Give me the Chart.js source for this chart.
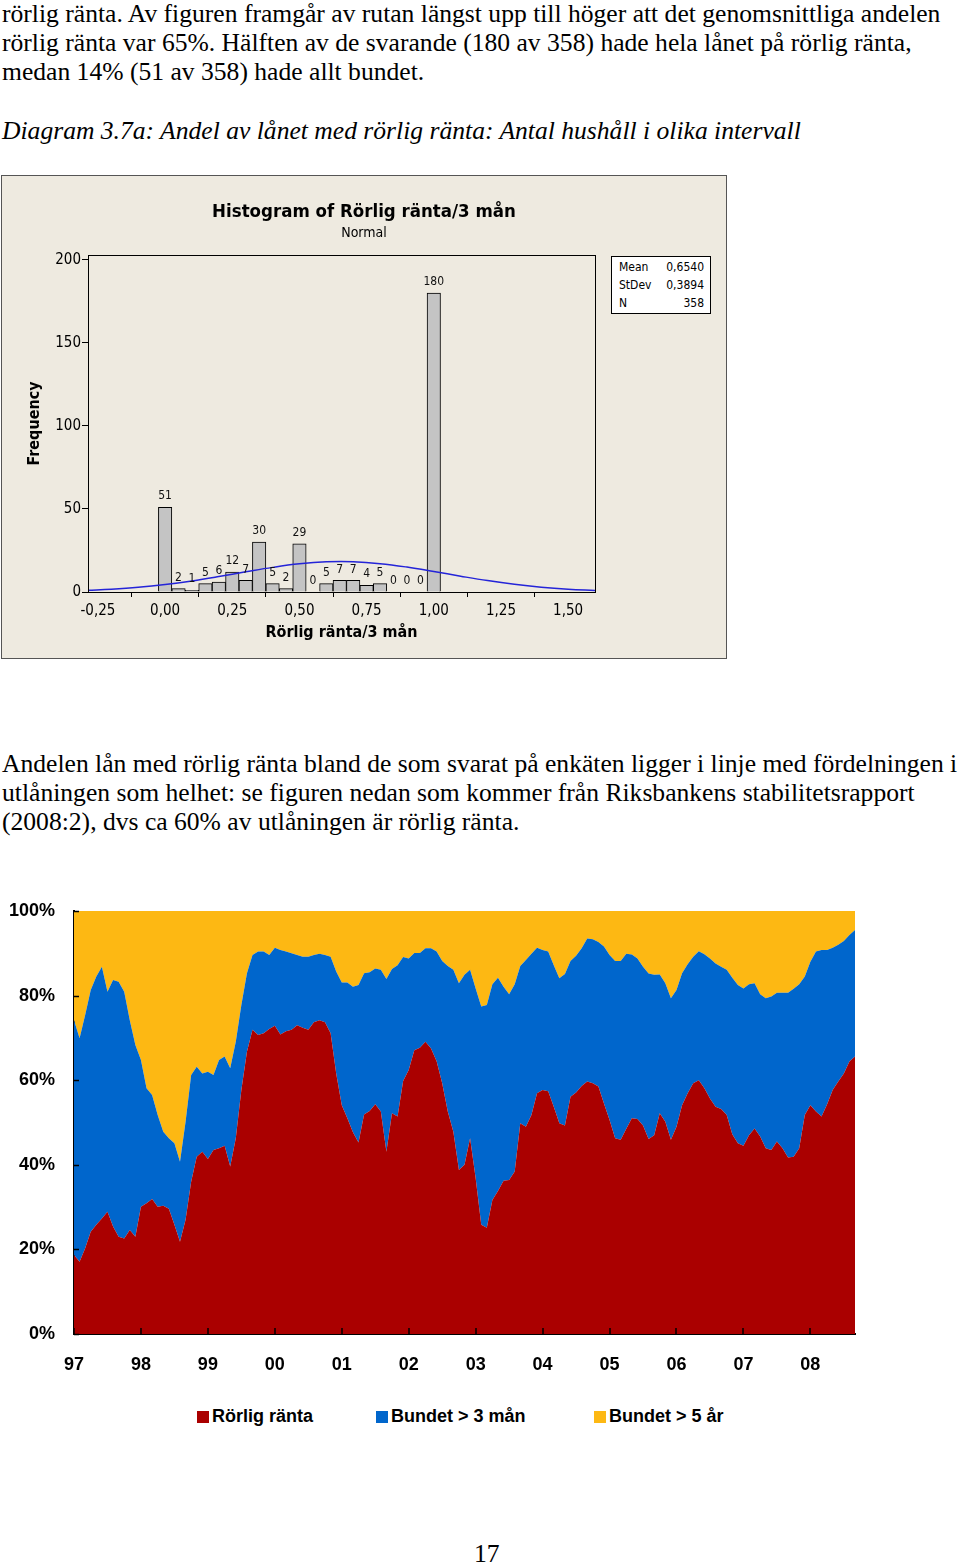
<!DOCTYPE html>
<html><head><meta charset="utf-8">
<script src="https://cdn.jsdelivr.net/npm/chart.js@4.4.1/dist/chart.umd.min.js"></script>
<style>
body{margin:0;background:#fff;width:960px;height:1566px;position:relative;overflow:hidden;font-family:"Liberation Serif","Times New Roman",serif;color:#000;}
.t{position:absolute;left:2px;font-size:25.6px;line-height:29px;white-space:nowrap;}
.i{font-style:italic;}
#hbox{position:absolute;left:1px;top:175px;width:726px;height:484px;box-sizing:border-box;border:1px solid #555;background:#EEEAE0;}
#hc{position:absolute;left:0;top:0;}
#stats{position:absolute;left:609px;top:80px;width:100px;height:58px;box-sizing:border-box;border:1px solid #000;background:#fff;font-family:"DejaVu Sans Condensed","Liberation Sans Narrow",sans-serif;font-size:12px;line-height:18px;padding:1px 6px 0 7px;}
#stats div{display:flex;justify-content:space-between;}
#ac{position:absolute;left:0;top:895px;}
.lg{position:absolute;top:1405px;font-family:"Liberation Sans",Arial,sans-serif;font-weight:bold;font-size:18px;line-height:22px;white-space:nowrap;}
.lg span{display:inline-block;width:12px;height:12px;margin-right:3px;vertical-align:-1px;}
</style></head>
<body>
<div class="t" style="top:-1px">rörlig ränta. Av figuren framgår av rutan längst upp till höger att det genomsnittliga andelen</div>
<div class="t" style="top:28px">rörlig ränta var 65%. Hälften av de svarande (180 av 358) hade hela lånet på rörlig ränta,</div>
<div class="t" style="top:57px">medan 14% (51 av 358) hade allt bundet.</div>
<div class="t i" style="top:116px">Diagram 3.7a: Andel av lånet med rörlig ränta: Antal hushåll i olika intervall</div>

<div id="hbox">
  <canvas id="hc" width="724" height="482"></canvas>
  <div id="stats">
    <div><span>Mean</span><span>0,6540</span></div>
    <div><span>StDev</span><span>0,3894</span></div>
    <div><span>N</span><span>358</span></div>
  </div>
</div>

<div class="t" style="top:749px">Andelen lån med rörlig ränta bland de som svarat på enkäten ligger i linje med fördelningen i</div>
<div class="t" style="top:778px">utlåningen som helhet: se figuren nedan som kommer från Riksbankens stabilitetsrapport</div>
<div class="t" style="top:807px">(2008:2), dvs ca 60% av utlåningen är rörlig ränta.</div>

<canvas id="ac" width="960" height="500"></canvas>
<div class="lg" style="left:197px"><span style="background:#AA0000"></span>Rörlig ränta</div>
<div class="lg" style="left:376px"><span style="background:#0066CC"></span>Bundet &gt; 3 mån</div>
<div class="lg" style="left:594px"><span style="background:#FDB813"></span>Bundet &gt; 5 år</div>

<div class="t" style="top:1539px;left:474px">17</div>

<script>
// ---------- Histogram data ----------
const binCenters = [0.00,0.05,0.10,0.15,0.20,0.25,0.30,0.35,0.40,0.45,0.50,0.55,0.60,0.65,0.70,0.75,0.80,0.85,0.90,0.95,1.00];
const frequencies = [51,2,1,5,6,12,7,30,5,2,29,0,5,7,7,4,5,0,0,0,180];
const normalX = [-0.287,-0.2,-0.1,0,0.1,0.2,0.3,0.4,0.5,0.6,0.7,0.8,0.9,1.0,1.1,1.2,1.3,1.4,1.5,1.6];
const normalY = [0.99,1.66,2.81,4.48,6.67,9.29,12.13,14.83,16.96,18.16,18.21,17.09,15.02,12.36,9.52,6.86,4.63,2.93,1.73,0.96];
const histXTicks = [-0.25,0,0.25,0.5,0.75,1.0,1.25,1.5];
const histXTickLabels = ['-0,25','0,00','0,25','0,50','0,75','1,00','1,25','1,50'];
const histYTicks = [0,50,100,150,200];

// ---------- Area chart data (share in %, monthly from Jan 1997) ----------
const yearLabels = ['97','98','99','00','01','02','03','04','05','06','07','08'];
const rorlig = [18.7,17.1,20.3,24.2,25.8,27.3,28.9,25.4,23.0,22.6,24.6,23.0,
30.1,30.9,31.9,30.1,30.3,29.6,25.8,21.8,27.0,36.0,41.9,43.1,
41.4,43.5,43.9,44.5,39.6,46.3,57.7,66.7,71.9,70.7,71.1,72.1,
72.9,70.8,71.6,71.9,73.0,72.4,71.9,73.7,74.2,73.7,71.1,61.6,
54.1,51.0,47.7,45.3,51.9,52.7,54.3,52.6,43.1,52.2,51.4,59.8,
62.4,67.1,67.7,69.1,67.5,64.5,59.3,52.6,47.8,38.8,40.0,46.3,
36.8,25.8,25.1,31.7,33.8,36.2,36.4,38.4,49.8,49.0,51.8,56.9,
57.7,57.4,53.7,49.8,49.3,56.1,57.1,58.6,59.7,59.3,58.5,54.5,
50.6,46.3,45.9,48.5,51.0,50.8,49.3,46.1,47.0,52.2,50.2,45.9,
49.0,54.1,56.9,59.3,60.0,58.1,55.7,53.7,53.2,51.8,47.2,45.1,
44.5,47.0,48.6,46.7,43.9,43.5,45.5,43.9,41.7,41.9,43.9,51.8,
54.1,52.6,51.4,54.3,57.7,59.7,61.6,64.4,65.6];
const bundet3man = [55.5,52.8,55.1,57.1,58.7,59.5,52.0,58.3,60.3,58.3,49.6,45.3,
34.7,27.2,24.6,21.7,17.5,16.7,19.3,18.9,23.2,25.2,21.3,18.5,
20.6,17.7,20.9,21.1,23.2,22.8,20.1,18.6,17.7,19.7,19.3,17.5,
18.4,20.0,18.8,18.1,16.6,16.8,17.3,15.9,15.7,15.9,18.1,24.1,
29.0,32.1,34.4,37.2,33.4,32.8,32.1,33.5,40.8,34.1,35.8,29.3,
26.4,23.0,22.4,22.1,23.7,25.9,28.9,34.4,38.3,44.1,44.9,39.8,
44.9,51.6,52.7,51.0,50.4,45.9,43.9,44.3,37.2,39.4,38.1,34.4,
33.1,33.0,33.5,34.3,35.8,32.1,32.3,32.6,33.8,34.0,34.2,37.1,
39.0,41.9,42.3,41.4,38.7,38.0,37.5,39.1,37.9,32.8,32.7,33.5,
32.3,31.2,30.5,29.9,30.5,31.7,33.1,33.9,33.6,34.3,37.0,37.4,
37.2,35.7,34.3,33.6,35.5,36.3,35.2,36.8,39.0,39.7,38.8,32.7,
33.9,37.8,39.4,36.5,33.6,32.3,31.3,29.9,29.9];
const bundet5ar = [25.8,30.1,24.6,18.7,15.5,13.2,19.1,16.3,16.7,19.1,25.8,31.7,
35.2,41.9,43.5,48.2,52.2,53.7,54.9,59.3,49.8,38.8,36.8,38.4,
38.0,38.8,35.2,34.4,37.2,30.9,22.2,14.7,10.4,9.6,9.6,10.4,
8.7,9.2,9.6,10.0,10.4,10.8,10.8,10.4,10.1,10.4,10.8,14.3,
16.9,16.9,17.9,17.5,14.7,14.5,13.6,13.9,16.1,13.7,12.8,10.9,
11.2,9.9,9.9,8.8,8.8,9.6,11.8,13.0,13.9,17.1,15.1,13.9,
18.3,22.6,22.2,17.3,15.8,17.9,19.7,17.3,13.0,11.6,10.1,8.7,
9.2,9.6,12.8,15.9,14.9,11.8,10.6,8.8,6.5,6.7,7.3,8.4,
10.4,11.8,11.8,10.1,10.3,11.2,13.2,14.8,15.1,15.0,17.1,20.6,
18.7,14.7,12.6,10.8,9.5,10.2,11.2,12.4,13.2,13.9,15.8,17.5,
18.3,17.3,17.1,19.7,20.6,20.2,19.3,19.3,19.3,18.4,17.3,15.5,
12.0,9.6,9.2,9.2,8.7,8.0,7.1,5.7,4.5];
const seriesNames = ['Rörlig ränta','Bundet > 3 mån','Bundet > 5 år'];

const condensed = '"DejaVu Sans Condensed","Liberation Sans Narrow",sans-serif';
const arialBold = '"Liberation Sans",Arial,sans-serif';

// ---------- Histogram ----------
const plotFrame = {
  id:'plotFrame',
  afterDraw(chart){
    const a = chart.chartArea, c = chart.ctx;
    c.save(); c.strokeStyle='#000'; c.lineWidth=1;
    c.strokeRect(Math.round(a.left)+0.5, Math.round(a.top)+0.5, Math.round(a.right-a.left), Math.round(a.bottom-a.top));
    c.restore();
  }
};
const barLabels = {
  id:'barLabels',
  afterDatasetsDraw(chart){
    const c = chart.ctx;
    const meta = chart.getDatasetMeta(1);
    c.save();
    c.font = '12px ' + condensed;
    c.fillStyle = '#111';
    c.textAlign = 'center';
    c.textBaseline = 'middle';
    meta.data.forEach((el,i)=>{
      c.fillText(String(frequencies[i]), el.x, el.y - 11);
    });
    c.restore();
  }
};

new Chart(document.getElementById('hc'), {
  type:'bar',
  data:{
    datasets:[
      {type:'line', data: normalX.map((x,i)=>({x, y: normalY[i]})), borderColor:'#2424D8', borderWidth:1.5, pointRadius:0, tension:0.4, fill:false, order:0, xAxisID:'x', yAxisID:'y'},
      {type:'bar', data: binCenters.map((x,i)=>({x, y: frequencies[i]})), backgroundColor:'#C4C4C4', borderColor:'#000', borderWidth:1, barPercentage:1, categoryPercentage:1, order:1, xAxisID:'x', yAxisID:'y'}
    ]
  },
  options:{
    responsive:false, animation:false, devicePixelRatio:1,
    layout:{padding:{left:0,right:0,top:0,bottom:0}},
    plugins:{
      legend:{display:false}, tooltip:{enabled:false},
      title:{display:true, text:'Histogram of Rörlig ränta/3 mån', color:'#000', font:{family:condensed, size:18.5, weight:'bold'}, padding:{top:25,bottom:0}},
      subtitle:{display:true, text:'Normal', color:'#000', font:{family:condensed, size:14}, padding:{top:2,bottom:13}}
    },
    scales:{
      x:{type:'linear', min:-0.287, max:1.60, offset:false,
        grid:{display:true, drawOnChartArea:false, drawTicks:true, tickLength:5, color:'#000'},
        border:{display:false},
        afterBuildTicks:s=>{ s.ticks = histXTicks.map(v=>({value:v})); },
        afterFit:s=>{ s.height = 66; },
        ticks:{autoSkip:false, maxRotation:0, padding:5, color:'#000', font:{family:condensed, size:15}, callback:(v,i)=>histXTickLabels[i]},
        title:{display:true, text:'Rörlig ränta/3 mån', color:'#000', font:{family:condensed, size:16, weight:'bold'}, padding:{top:0,bottom:16}}
      },
      y:{type:'linear', min:0, max:203,
        grid:{display:true, drawOnChartArea:false, drawTicks:true, tickLength:6, color:'#000'},
        border:{display:false},
        afterBuildTicks:s=>{ s.ticks = histYTicks.map(v=>({value:v})); },
        afterFit:s=>{ s.width = 86; },
        ticks:{padding:1, color:'#000', font:{family:condensed, size:15}},
        title:{display:true, text:'Frequency', color:'#000', font:{family:condensed, size:16, weight:'bold'}, padding:{top:23,bottom:0}}
      },
      y2:{type:'linear', position:'right', display:true, grid:{display:false}, border:{display:false}, ticks:{display:false},
        afterFit:s=>{ s.width = 131; }}
    }
  },
  plugins:[plotFrame, barLabels]
});

// ---------- Stacked area ----------
const innerTicks = {
  id:'innerTicks',
  afterDraw(chart){
    const c = chart.ctx, a = chart.chartArea;
    const xs = chart.scales.x, ys = chart.scales.y;
    c.save(); c.strokeStyle='#000'; c.lineWidth=1.5;
    c.beginPath();
    [0,20,40,60,80,100].forEach(v=>{ const y = Math.round(ys.getPixelForValue(v))+0.5; c.moveTo(a.left, y); c.lineTo(a.left+5, y); });
    yearLabels.forEach((_,i)=>{ const x = Math.round(xs.getPixelForValue(i*12)); c.moveTo(x, a.bottom); c.lineTo(x, a.bottom-6); });
    c.stroke(); c.restore();
  }
};

new Chart(document.getElementById('ac'), {
  type:'line',
  data:{
    datasets:[
      {label:seriesNames[0], data: rorlig.map((v,i)=>({x:i,y:v})), backgroundColor:'#AA0000', borderWidth:0, pointRadius:0, fill:'origin', tension:0},
      {label:seriesNames[1], data: bundet3man.map((v,i)=>({x:i,y:v})), backgroundColor:'#0066CC', borderWidth:0, pointRadius:0, fill:'-1', tension:0},
      {label:seriesNames[2], data: bundet5ar.map((v,i)=>({x:i,y:v})), backgroundColor:'#FDB813', borderWidth:0, pointRadius:0, fill:'-1', tension:0}
    ]
  },
  options:{
    responsive:false, animation:false, devicePixelRatio:1,
    layout:{padding:{left:0,right:105,top:16,bottom:0}},
    plugins:{legend:{display:false}, tooltip:{enabled:false}},
    scales:{
      x:{type:'linear', min:0, max:140,
        grid:{display:false}, border:{display:true, color:'#000', width:2},
        afterBuildTicks:s=>{ s.ticks = yearLabels.map((_,i)=>({value:i*12})); },
        afterFit:s=>{ s.height = 61; },
        ticks:{autoSkip:false, maxRotation:0, padding:12, color:'#000', font:{family:arialBold, size:18, weight:'bold'}, callback:(v,i)=>yearLabels[i]}
      },
      y:{type:'linear', min:0, max:100, stacked:true,
        grid:{display:true, drawOnChartArea:false, drawTicks:true, tickLength:16, tickColor:'rgba(0,0,0,0)', color:'rgba(0,0,0,0)'},
        border:{display:true, color:'#000', width:2},
        afterFit:s=>{ s.width = 74; },
        ticks:{stepSize:20, padding:3, color:'#000', font:{family:arialBold, size:18, weight:'bold'}, callback:v=>v+'%'}
      }
    }
  },
  plugins:[innerTicks]
});
</script>
</body></html>
